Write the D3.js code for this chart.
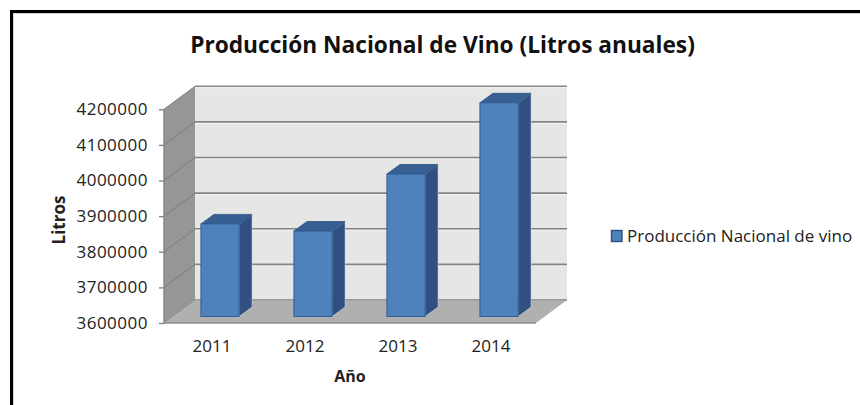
<!DOCTYPE html>
<html>
<head>
<meta charset="utf-8">
<script src="https://cdn.jsdelivr.net/npm/d3@7"></script>
<style>
  html, body { margin: 0; padding: 0; background: #fff; }
  text { font-family: "Open Sans", sans-serif; fill: #222; }
  .axis path { display: none; }
</style>
</head>
<body>
<div id="cont"></div>
<script>
// Data
var years = ["2011", "2012", "2013", "2014"];
var litros = [3860000, 3840000, 4000000, 4200000];
var yTicks = [3600000, 3700000, 3800000, 3900000, 4000000, 4100000, 4200000];
var serieName = "Producción Nacional de vino";
var chartTitle = "Producción Nacional de Vino (Litros anuales)";

// Parameters
var width = 860, height = 405;
var left = 164, right = 536, bottom = 323, top_ = 109.3;
var depthX = 31, depthY = -23;      // wall offset
var barDX = 9.5, barDY = -6.5;      // bar sits inside the floor
var sideX = 13, sideY = -9.5;       // bar depth

var svg = d3.select("#cont").append("svg")
    .attr("width", width)
    .attr("height", height)
    .style("display", "block");

var x = d3.scaleBand().domain(years).range([left, right]).paddingInner(0.59).paddingOuter(0.295);
var y = d3.scaleLinear().domain([3600000, 4200000]).range([bottom, top_]);

var pts = function(a) { return a.map(function(p) { return p.join(","); }).join(" "); };

// outer frame of the screenshot
svg.append("path")
    .attr("d", "M11.5,405V11.5H860")
    .attr("fill", "none").attr("stroke", "#000").attr("stroke-width", 3);
svg.append("path")
    .attr("d", "M13.5,405V13.5H860")
    .attr("fill", "none").attr("stroke", "#d0d0d0").attr("stroke-width", 1);

// back wall
svg.append("rect")
    .attr("x", left + depthX).attr("y", y(4200000) + depthY)
    .attr("width", right - left).attr("height", bottom - top_)
    .attr("fill", "#e6e6e6");

// side wall
svg.append("polygon")
    .attr("points", pts([[left, bottom], [left, top_], [left + depthX, top_ + depthY], [left + depthX, bottom + depthY]]))
    .attr("fill", "#969696");

// grid on both walls
var grid = svg.append("g");
yTicks.forEach(function(t) {
    grid.append("line")
        .attr("x1", left + depthX).attr("x2", right + depthX)
        .attr("y1", y(t) + depthY + 1.5).attr("y2", y(t) + depthY + 1.5)
        .attr("stroke", "#f4f4f4").attr("stroke-width", 1);
    grid.append("line")
        .attr("x1", left + depthX).attr("x2", right + depthX)
        .attr("y1", y(t) + depthY).attr("y2", y(t) + depthY)
        .attr("stroke", "#858585").attr("stroke-width", 1.6);
    grid.append("line")
        .attr("x1", left).attr("x2", left + depthX)
        .attr("y1", y(t)).attr("y2", y(t) + depthY)
        .attr("stroke", "#7c7c7c").attr("stroke-width", 1);
});

// floor
svg.append("polygon")
    .attr("points", pts([[left, bottom], [right, bottom], [right + depthX, bottom + depthY], [left + depthX, bottom + depthY]]))
    .attr("fill", "#b0b0b0");
svg.append("line")
    .attr("x1", left).attr("x2", right).attr("y1", bottom).attr("y2", bottom)
    .attr("stroke", "#8c8c8c").attr("stroke-width", 1.6);
svg.append("line")
    .attr("x1", left + depthX).attr("x2", right + depthX)
    .attr("y1", bottom + depthY).attr("y2", bottom + depthY)
    .attr("stroke", "#9a9a9a").attr("stroke-width", 1.2);
svg.append("line")
    .attr("x1", left).attr("x2", left).attr("y1", top_).attr("y2", bottom)
    .attr("stroke", "#858585").attr("stroke-width", 1.4);

// bars
var bars = svg.selectAll(".bar")
    .data(years)
    .enter().append("g")
    .attr("class", "bar");

var barBase = bottom + barDY;
var barTop = function(i) { return y(litros[i]) + barDY; };

bars.append("polygon") // side
    .attr("points", function(d, i) {
        var r = x(d) + x.bandwidth() + barDX;
        return pts([[r, barBase], [r, barTop(i)], [r + sideX, barTop(i) + sideY], [r + sideX, barBase + sideY]]);
    })
    .attr("fill", "#2f5080").attr("stroke", "#dfe6ef").attr("stroke-width", 0.5);

bars.append("polygon") // top
    .attr("points", function(d, i) {
        var l = x(d) + barDX, r = l + x.bandwidth();
        return pts([[l, barTop(i)], [r, barTop(i)], [r + sideX, barTop(i) + sideY], [l + sideX, barTop(i) + sideY]]);
    })
    .attr("fill", "#375f92").attr("stroke", "#2f5080").attr("stroke-width", 0.8);

bars.append("rect") // front
    .attr("x", function(d) { return x(d) + barDX; })
    .attr("y", function(d, i) { return barTop(i); })
    .attr("width", x.bandwidth())
    .attr("height", function(d, i) { return barBase - barTop(i); })
    .attr("fill", "#4f81bd").attr("stroke", "#2f5e94").attr("stroke-width", 1);

// axes
var yAxis = svg.append("g")
    .attr("class", "axis")
    .attr("transform", "translate(" + left + ",0)")
    .call(d3.axisLeft(y).tickValues(yTicks).tickFormat(d3.format("d")).tickSize(5).tickPadding(11));
yAxis.selectAll("line").attr("stroke", "#858585").attr("stroke-width", 1.4);
yAxis.selectAll("text")
    .style("font-size", "17px").style("letter-spacing", "0.5px")
    .style("font-family", '"Open Sans", sans-serif').attr("fill", "#222");

var xAxis = svg.append("g")
    .attr("class", "axis")
    .attr("transform", "translate(1.5," + bottom + ")")
    .call(d3.axisBottom(x).tickSize(0).tickPadding(17));
xAxis.selectAll("text")
    .style("font-size", "17px")
    .style("font-family", '"Open Sans", sans-serif').attr("fill", "#222");

// titles
svg.append("text")
    .attr("x", 442.5).attr("y", 53)
    .attr("text-anchor", "middle")
    .style("font-size", "22.7px").style("font-weight", "700").style("fill", "#111")
    .text(chartTitle);

svg.append("text")
    .attr("x", 350).attr("y", 382)
    .attr("text-anchor", "middle")
    .style("font-size", "16px").style("font-weight", "700")
    .text("Año");

svg.append("text")
    .attr("transform", "translate(65,220) rotate(-90)")
    .attr("text-anchor", "middle")
    .style("font-size", "17px").style("font-weight", "700")
    .text("Litros");

// legend
svg.append("rect")
    .attr("x", 611.5).attr("y", 230.5).attr("width", 10.5).attr("height", 11)
    .attr("fill", "#4f81bd").attr("stroke", "#2f5080").attr("stroke-width", 1.4);
svg.append("text")
    .attr("x", 627).attr("y", 242)
    .style("font-size", "17px")
    .text(serieName);
</script>
</body>
</html>
